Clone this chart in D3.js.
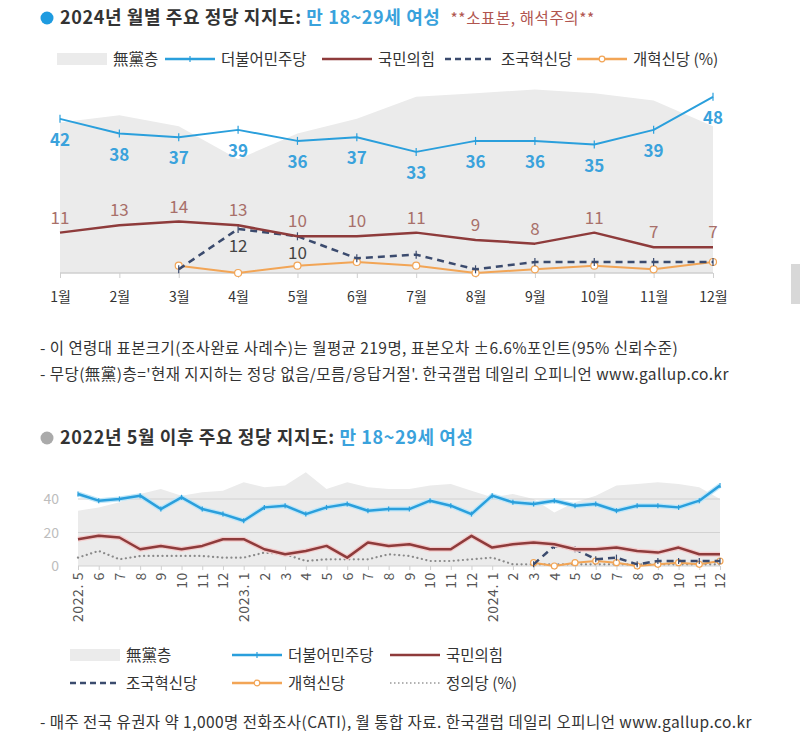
<!DOCTYPE html>
<html><head><meta charset="utf-8">
<script src="https://cdn.jsdelivr.net/npm/d3@7"></script>
<style>
body{margin:0;background:#fff}
svg{display:block}
text{font-family:"Noto Sans CJK KR","Noto Sans",sans-serif}
</style>
</head><body>
<svg id="c" width="800" height="752"></svg>
<script>
// ---------- DATA: top chart (2024 monthly) ----------
const months = ["1월","2월","3월","4월","5월","6월","7월","8월","9월","10월","11월","12월"];
const topNone   = [41,43,40,31,38,42,48,49,50,49,47,40];
const topMinju  = [42,38,37,39,36,37,33,36,36,35,39,48];
const topPPP    = [11,13,14,13,10,10,11,9,8,11,7,7];
const topCho    = [null,null,1,12,10,4,5,1,3,3,3,3];
const topReform = [null,null,2,0,2,3,2,0,1,2,1,3];
const topChoLabels = [null,null,null,12,10,null,null,null,null,null,null,null];

// ---------- DATA: bottom chart (2022.5 ~ 2024.12) ----------
const periods = ["2022. 5","6","7","8","9","10","11","12",
  "2023. 1","2","3","4","5","6","7","8","9","10","11","12",
  "2024. 1","2","3","4","5","6","7","8","9","10","11","12"];
const botNone   = [33,35,38,43,46,42,44,45, 50,47,48,56,46,50,47,46,46,48,49,45, 41,43,40,32,38,42,48,49,50,49,47,40];
const botMinju  = [43,39,40,42,34,41,34,31, 27,35,36,31,35,37,33,34,34,39,36,31, 42,38,37,39,36,37,33,36,36,35,39,48];
const botPPP    = [16,18,17,10,12,10,12,16, 16,10,7,9,12,5,14,12,13,10,10,18, 11,13,14,13,10,10,11,9,8,11,7,7];
const botJustice= [5,9,4,6,6,6,6,5, 5,8,7,3,4,4,4,7,6,3,3,4, 5,1,1,1,1,1,1,1,1,1,1,1];
const botCho    = [null,null,null,null,null,null,null,null, null,null,null,null,null,null,null,null,null,null,null,null, null,null,1,12,10,4,5,1,3,3,3,3];
const botReform = [null,null,null,null,null,null,null,null, null,null,null,null,null,null,null,null,null,null,null,null, null,null,2,0,2,3,2,0,1,2,1,3];
const yTicks = [0,20,40];

// ---------- STYLE ----------
const C = {blue:"#2a9fdc", red:"#8e3b3b", navy:"#3b4b6e", orange:"#f2a556", gray:"#ebebeb", dot:"#8a8a8a",
  blueTxt:"#3aa2dc", redTxt:"#a8706a", dark:"#333"};

const svg = d3.select("#c");

// scrollbar-like artifact
svg.append("rect").attr("x",791).attr("y",264).attr("width",9).attr("height",40).attr("fill","#d8d8d8");

// ---------- TITLES ----------
function title(y, dotColor, parts){
  svg.append("circle").attr("cx",47).attr("cy",y-6).attr("r",6.5).attr("fill",dotColor);
  const t = svg.append("text").attr("x",60).attr("y",y).attr("font-size",18).attr("font-weight",700).attr("letter-spacing",0.6);
  parts.forEach(p=>t.append("tspan").text(p.t).attr("fill",p.c).attr("font-size",p.s||18).attr("font-weight",p.w||700).attr("dx",p.dx||0));
}
title(24,"#1e9be0",[{t:"2024년 월별 주요 정당 지지도: ",c:"#333"},{t:"만 18~29세 여성",c:"#3aa2dc"},{t:"**소표본, 해석주의**",c:"#b0554f",s:15.5,w:400,dx:10}]);
title(444,"#aaaaaa",[{t:"2022년 5월 이후 주요 정당 지지도: ",c:"#333"},{t:"만 18~29세 여성",c:"#3aa2dc"}]);

// ---------- LEGEND helper ----------
function legendItem(x,y,type,label){
  const g = svg.append("g");
  const w = 50;
  if(type==="area"){ g.append("rect").attr("x",x).attr("y",y-6).attr("width",w).attr("height",12).attr("fill",C.gray); }
  else if(type==="blue"){ g.append("line").attr("x1",x).attr("x2",x+w).attr("y1",y).attr("y2",y).attr("stroke",C.blue).attr("stroke-width",2.5);
    g.append("line").attr("x1",x+w/2).attr("x2",x+w/2).attr("y1",y-3).attr("y2",y+3).attr("stroke",C.blue).attr("stroke-width",1.2);}
  else if(type==="red"){ g.append("line").attr("x1",x).attr("x2",x+w).attr("y1",y).attr("y2",y).attr("stroke",C.red).attr("stroke-width",2.5);}
  else if(type==="navy"){ g.append("line").attr("x1",x).attr("x2",x+w).attr("y1",y).attr("y2",y).attr("stroke",C.navy).attr("stroke-width",2.5).attr("stroke-dasharray","6,4");}
  else if(type==="orange"){ g.append("line").attr("x1",x).attr("x2",x+w).attr("y1",y).attr("y2",y).attr("stroke",C.orange).attr("stroke-width",2.5);
    g.append("circle").attr("cx",x+w/2).attr("cy",y).attr("r",2.8).attr("fill","#fff").attr("stroke",C.orange).attr("stroke-width",1.2);}
  else if(type==="dot"){ g.append("line").attr("x1",x).attr("x2",x+w).attr("y1",y).attr("y2",y).attr("stroke","#999").attr("stroke-width",1.5).attr("stroke-dasharray","1.5,2.5");}
  g.append("text").attr("x",x+w+6).attr("y",y+5.5).attr("font-size",15.5).attr("fill","#333").text(label);
}
legendItem(57,59,"area","無黨층");
legendItem(165,59,"blue","더불어민주당");
legendItem(322,59,"red","국민의힘");
legendItem(445,59,"navy","조국혁신당");
legendItem(577,59,"orange","개혁신당 (%)");

// ---------- TOP CHART ----------
const xT = d3.scalePoint().domain(months).range([60,713]);
const yT = d3.scaleLinear().domain([0,50]).range([273,89.5]);

svg.append("path").datum(months.map((m,i)=>({m,v:topNone[i]})))
  .attr("d", d3.area().x(d=>xT(d.m)).y0(yT(0)).y1(d=>yT(d.v))).attr("fill",C.gray);

svg.append("line").attr("x1",60).attr("x2",713).attr("y1",yT(0)).attr("y2",yT(0)).attr("stroke","#cfcfcf").attr("stroke-width",1.5);
const axT = svg.append("g").attr("transform",`translate(0,${yT(0)})`)
  .call(d3.axisBottom(xT).tickSize(5).tickPadding(14));
axT.select(".domain").remove();
axT.selectAll(".tick line").attr("stroke","#cfcfcf");
axT.selectAll(".tick text").attr("font-size",14).attr("fill","#333").attr("font-family","'Noto Sans CJK KR',sans-serif");

function series(xs, ys, keys, vals, opts){
  const pts = keys.map((k,i)=>({k,v:vals[i]}));
  const line = d3.line().defined(d=>d.v!=null).x(d=>xs(d.k)).y(d=>ys(d.v));
  if(opts.halo) svg.append("path").datum(pts).attr("d",line).attr("fill","none").attr("stroke",opts.halo).attr("stroke-width",opts.w+2.5).attr("stroke-linejoin","round");
  svg.append("path").datum(pts).attr("d",line).attr("fill","none").attr("stroke",opts.c)
    .attr("stroke-width",opts.w).attr("stroke-dasharray",opts.dash||null).attr("stroke-linecap",opts.cap||"butt").attr("stroke-linejoin","round");
  const dp = pts.filter(d=>d.v!=null);
  if(opts.mark==="tick"){
    svg.append("g").selectAll("line").data(dp).join("line")
      .attr("x1",d=>xs(d.k)).attr("x2",d=>xs(d.k)).attr("y1",d=>ys(d.v)-opts.ms).attr("y2",d=>ys(d.v)+opts.ms)
      .attr("stroke",opts.c).attr("stroke-width",1.2);
  } else if(opts.mark==="circle"){
    svg.append("g").selectAll("circle").data(dp).join("circle")
      .attr("cx",d=>xs(d.k)).attr("cy",d=>ys(d.v)).attr("r",opts.ms).attr("fill","#fff").attr("stroke",opts.c).attr("stroke-width",1.2);
  }
  return pts;
}

series(xT,yT,months,topReform,{c:C.orange,w:2,mark:"circle",ms:3.5});
series(xT,yT,months,topCho,{c:C.navy,w:2.5,dash:"7,5",mark:"tick",ms:4});
series(xT,yT,months,topPPP,{c:C.red,w:2.5});
series(xT,yT,months,topMinju,{c:C.blue,w:2,mark:"tick",ms:4});

// data labels
svg.append("g").selectAll("text").data(months.map((m,i)=>({m,v:topMinju[i]}))).join("text")
  .attr("x",d=>xT(d.m)).attr("y",d=>yT(d.v)+27).attr("text-anchor","middle").attr("font-size",17).attr("font-weight",600)
  .attr("fill",C.blueTxt).text(d=>d.v);
svg.append("g").selectAll("text").data(months.map((m,i)=>({m,v:topPPP[i]}))).join("text")
  .attr("x",d=>xT(d.m)).attr("y",d=>yT(d.v)-9).attr("text-anchor","middle").attr("font-size",17)
  .attr("fill",C.redTxt).text(d=>d.v);
svg.append("g").selectAll("text").data(months.map((m,i)=>({m,v:topCho[i],l:topChoLabels[i]})).filter(d=>d.l!=null)).join("text")
  .attr("x",d=>xT(d.m)).attr("y",d=>yT(d.v)+23).attr("text-anchor","middle").attr("font-size",17)
  .attr("fill","#444").text(d=>d.l);

// footnotes top
const fn = (y,t)=>svg.append("text").attr("x",40).attr("y",y).attr("font-size",15.5).attr("letter-spacing",0.45).attr("fill","#333").text(t);
fn(354,"- 이 연령대 표본크기(조사완료 사례수)는 월평균 219명, 표본오차 ±6.6%포인트(95% 신뢰수준)");
fn(380,"- 무당(無黨)층='현재 지지하는 정당 없음/모름/응답거절'. 한국갤럽 데일리 오피니언 www.gallup.co.kr");

// ---------- BOTTOM CHART ----------
const xB = d3.scalePoint().domain(periods.map((p,i)=>i)).range([78,720]);
const yB = d3.scaleLinear().domain([0,40]).range([566,499]);

svg.append("path").datum(periods.map((p,i)=>({k:i,v:botNone[i]})))
  .attr("d", d3.area().x(d=>xB(d.k)).y0(yB(0)).y1(d=>yB(d.v))).attr("fill",C.gray);

svg.append("g").selectAll("line").data(yTicks).join("line")
  .attr("x1",78).attr("x2",720).attr("y1",d=>yB(d)).attr("y2",d=>yB(d)).attr("stroke","#d2d2d2").attr("stroke-width",1.2);
svg.append("g").selectAll("text").data(yTicks).join("text")
  .attr("x",59).attr("y",d=>yB(d)+5).attr("text-anchor","end").attr("font-size",14).attr("fill","#bdbdbd").text(d=>d);

const axB = svg.append("g").attr("transform",`translate(0,${yB(0)})`)
  .call(d3.axisBottom(xB).tickSize(4).tickFormat(i=>periods[i]));
axB.select(".domain").remove();
axB.selectAll(".tick line").attr("stroke","#cfcfcf");
axB.selectAll(".tick text").attr("transform","rotate(-90)").attr("text-anchor","end")
  .attr("x",-6).attr("y",0).attr("dy","0.35em").attr("font-size",14).attr("letter-spacing",0.6).attr("fill","#555")
  .attr("font-family","'Liberation Sans','DejaVu Sans',sans-serif");

const idx = periods.map((p,i)=>i);
series(xB,yB,idx,botJustice,{c:C.dot,w:2.2,dash:"0.1,4.5",cap:"round"});
series(xB,yB,idx,botReform,{c:C.orange,w:2,mark:"circle",ms:3});
series(xB,yB,idx,botCho,{c:C.navy,w:2.5,dash:"7,5",mark:"tick",ms:3});
series(xB,yB,idx,botPPP,{c:C.red,w:2.5,halo:"#f3cccc"});
series(xB,yB,idx,botMinju,{c:C.blue,w:2.5,halo:"#bfe6f8",mark:"tick",ms:2.5});

// bottom legend
legendItem(70,655,"area","無黨층");
legendItem(232,655,"blue","더불어민주당");
legendItem(390,655,"red","국민의힘");
legendItem(70,683,"navy","조국혁신당");
legendItem(232,683,"orange","개혁신당");
legendItem(390,683,"dot","정의당 (%)");

fn(728,"- 매주 전국 유권자 약 1,000명 전화조사(CATI), 월 통합 자료. 한국갤럽 데일리 오피니언 www.gallup.co.kr");
</script>
</body></html>
